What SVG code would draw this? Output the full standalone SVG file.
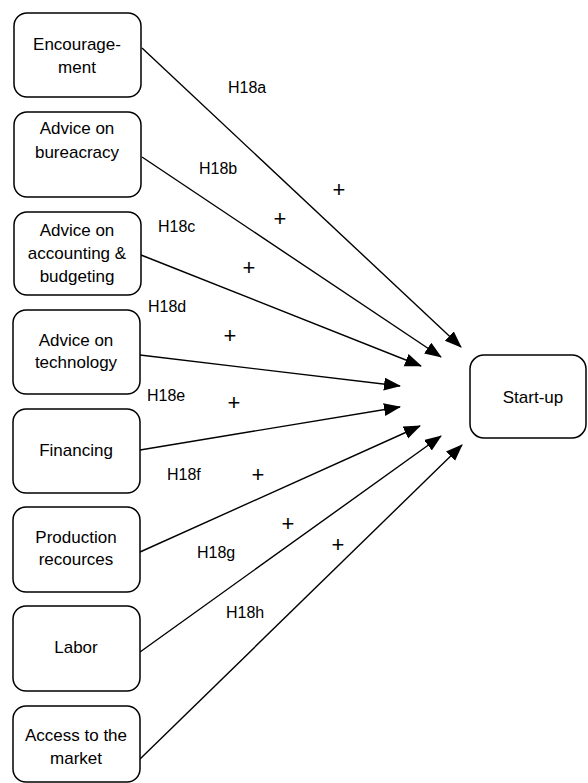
<svg xmlns="http://www.w3.org/2000/svg" width="588" height="783" viewBox="0 0 588 783">
<style>
.box{fill:#fff;stroke:#000;stroke-width:1.5}
.t{font-family:"Liberation Sans",Arial,sans-serif;font-size:17px;fill:#000;text-anchor:middle}
.lbl{font-family:"Liberation Sans",Arial,sans-serif;font-size:16px;fill:#000}
.plus{font-family:"Liberation Sans",Arial,sans-serif;font-size:22px;fill:#000;text-anchor:middle}
.c{stroke:#000;stroke-width:1.4;fill:none;marker-end:url(#ah)}
</style>
<defs>
<marker id="ah" markerUnits="userSpaceOnUse" markerWidth="18" markerHeight="14" refX="16" refY="6.5" orient="auto">
<path d="M0,0 L17,6.5 L0,13 Z" fill="#000"/>
</marker>
</defs>
<rect width="588" height="783" fill="#fff"/>
<g id="connectors">
<line class="c" x1="142" y1="48" x2="461" y2="347"/>
<line class="c" x1="142" y1="157" x2="441" y2="357"/>
<line class="c" x1="141" y1="255" x2="421" y2="366"/>
<line class="c" x1="140" y1="355" x2="400" y2="386"/>
<line class="c" x1="140" y1="450" x2="400" y2="407"/>
<line class="c" x1="140" y1="552" x2="420" y2="426"/>
<line class="c" x1="140" y1="652" x2="441" y2="436"/>
<line class="c" x1="139" y1="760" x2="462" y2="445"/>
</g>
<g id="labels">
<text class="lbl" x="228" y="93">H18a</text>
<text class="lbl" x="199" y="174">H18b</text>
<text class="lbl" x="158" y="232">H18c</text>
<text class="lbl" x="148" y="312">H18d</text>
<text class="lbl" x="147" y="401">H18e</text>
<text class="lbl" x="167" y="480">H18f</text>
<text class="lbl" x="197" y="558">H18g</text>
<text class="lbl" x="226" y="618">H18h</text>
<text class="plus" x="339" y="197">+</text>
<text class="plus" x="280" y="226">+</text>
<text class="plus" x="249" y="275">+</text>
<text class="plus" x="230" y="343">+</text>
<text class="plus" x="234" y="410">+</text>
<text class="plus" x="258" y="482">+</text>
<text class="plus" x="288" y="531">+</text>
<text class="plus" x="338" y="552">+</text>
</g>
<g id="n1"><rect class="box" x="14" y="13" width="127" height="84" rx="13"/><text class="t" x="77" y="50">Encourage-</text><text class="t" x="77" y="73">ment</text></g>
<g id="n2"><rect class="box" x="14" y="112" width="127" height="85" rx="13"/><text class="t" x="77" y="134">Advice on</text><text class="t" x="77" y="158">bureacracy</text></g>
<g id="n3"><rect class="box" x="14" y="212" width="127" height="83" rx="13"/><text class="t" x="77" y="236">Advice on</text><text class="t" x="77" y="259">accounting &amp;</text><text class="t" x="77" y="282">budgeting</text></g>
<g id="n4"><rect class="box" x="13" y="310" width="127" height="84" rx="13"/><text class="t" x="76" y="346">Advice on</text><text class="t" x="76" y="368">technology</text></g>
<g id="n5"><rect class="box" x="13" y="409" width="127" height="84" rx="13"/><text class="t" x="76" y="456">Financing</text></g>
<g id="n6"><rect class="box" x="13" y="507" width="127" height="85" rx="13"/><text class="t" x="76" y="543">Production</text><text class="t" x="76" y="565">recources</text></g>
<g id="n7"><rect class="box" x="13" y="606" width="127" height="85" rx="13"/><text class="t" x="76" y="653">Labor</text></g>
<g id="n8"><rect class="box" x="13" y="706" width="127" height="76" rx="13"/><text class="t" x="76" y="741">Access to the</text><text class="t" x="76" y="764">market</text></g>
<g id="n9"><rect class="box" x="470" y="355" width="116" height="83" rx="14"/><text class="t" x="533" y="403">Start-up</text></g>
</svg>
